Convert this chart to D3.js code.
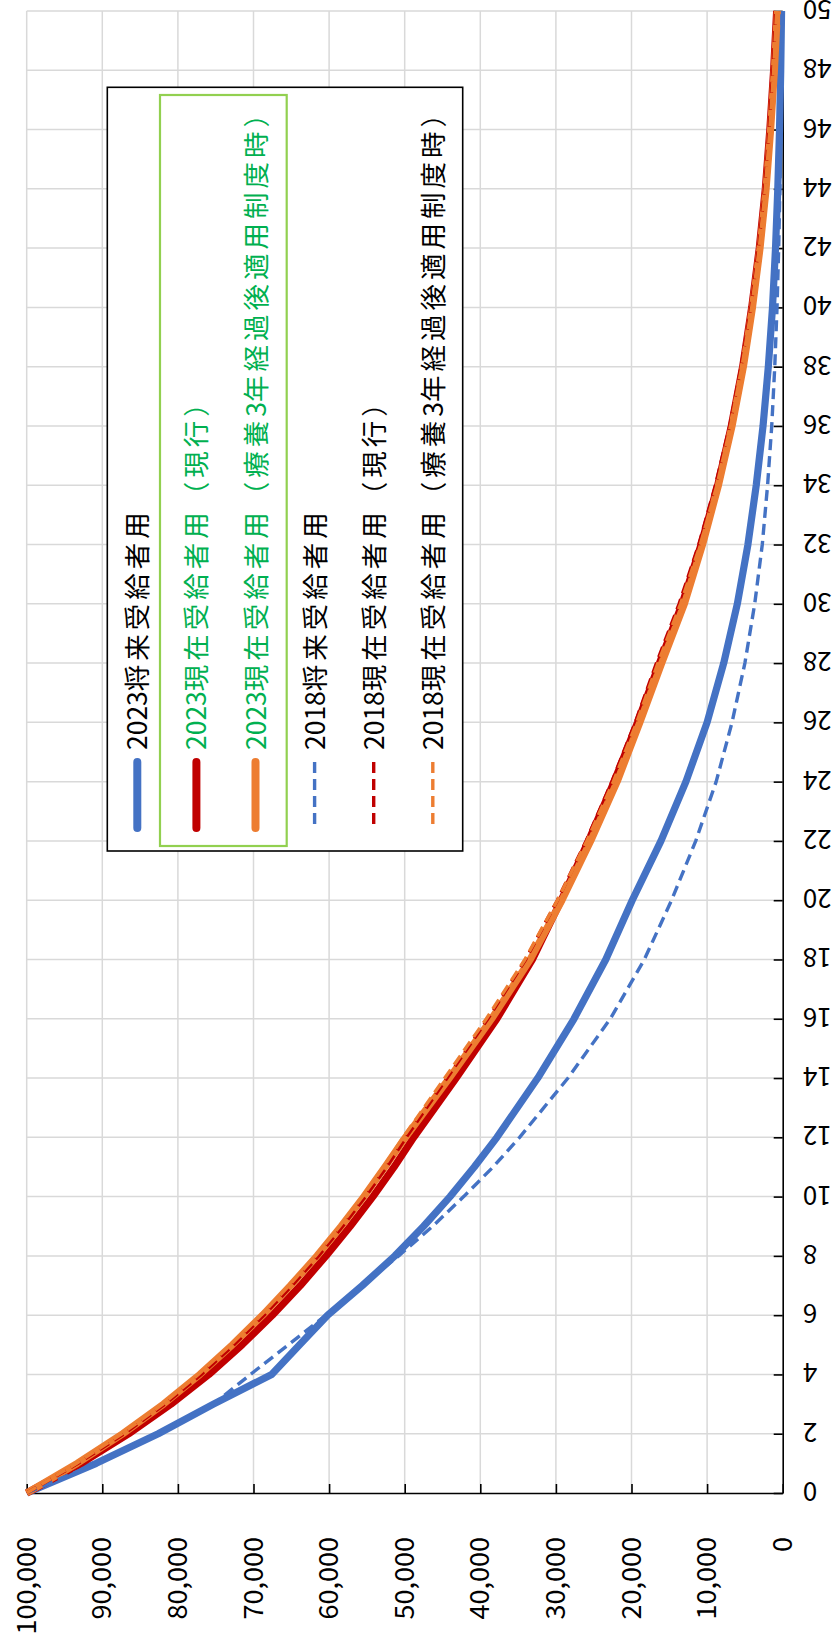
<!DOCTYPE html>
<html><head><meta charset="utf-8">
<script src="https://cdn.jsdelivr.net/npm/d3@7"></script>
<style>
html,body{margin:0;padding:0;background:#fff;}
svg{display:block;font-family:"Noto Sans CJK JP","Noto Sans",sans-serif;}
</style></head>
<body><svg id="c" width="835" height="1647"></svg>
<script>
// ---- data ----
const years = [0,1,2,3,4,5,6,7,8,9,10,11,12,14,16,18,20,22,24,26,28,30,32,34,36,38,40,42,44,46,48,50];
const future2023  = [100000,90800,82600,75300,67600,63900,60200,55600,51300,47500,44000,40800,37800,32400,27600,23400,19900,16100,12800,10000,7800,6000,4600,3500,2600,1900,1350,950,650,420,260,150];
const present2023 = [100000,92800,86500,80900,75900,71500,67500,63800,60400,57200,54200,51400,48800,43200,37800,33100,29300,25700,22300,19200,16300,13300,10800,8600,6800,5300,4100,3100,2300,1700,1200,800];
const ryoyo2023   = [100000,93300,87300,81900,77100,72800,68800,65100,61600,58400,55400,52600,49900,44100,38500,33400,29200,25400,21900,18900,16000,13000,10600,8500,6700,5200,4000,3000,2200,1600,1100,700];
const future2018  = [100000,90800,82600,75300,70400,65400,60400,55600,50800,46300,42200,38300,34800,28400,22800,18300,14700,11500,8800,6700,5000,3700,2700,2000,1450,1050,750,530,370,250,160,100];
const present2018 = [100000,93200,87100,81700,76900,72600,68600,64900,61400,58200,55200,52400,49800,44400,39000,34000,29800,26000,22600,19500,16700,13700,11100,8900,7000,5500,4200,3200,2400,1800,1300,900];
const ryoyo2018   = [100000,93400,87400,82000,77300,73000,69000,65300,61800,58600,55600,52800,50200,44700,39200,34100,29800,25900,22400,19300,16500,13500,10900,8700,6900,5400,4100,3100,2300,1700,1200,800];
const seriesNames = ["2023将来受給者用","2023現在受給者用（現行）","2023現在受給者用（療養3年経過後適用制度時）","2018将来受給者用","2018現在受給者用（現行）","2018現在受給者用（療養3年経過後適用制度時）"];
const seriesValues = [future2023, present2023, ryoyo2023, future2018, present2018, ryoyo2018];
const seriesColors = ["#4472C4","#C00000","#ED7D31","#4472C4","#C00000","#ED7D31"];
const seriesDashed = [false,false,false,true,true,true];
const legendTextColors = ["#000","#00B050","#00B050","#000","#000","#000"];
const valueTicks = [0,10000,20000,30000,40000,50000,60000,70000,80000,90000,100000];
const yearTicks = d3.range(0,51,2);

// ---- chart ----
const svg = d3.select("#c");
svg.append("rect").attr("width",835).attr("height",1647).attr("fill","#fff");

// value axis runs horizontally (0 at right), years run vertically (0 at bottom)
const xV = d3.scaleLinear().domain([0,100000]).range([782.7, 26.7]);
const yY = d3.scaleLinear().domain([0,50]).range([1493, 11]);

const grid = svg.append("g");
grid.selectAll("line.vg").data(valueTicks.filter(v=>v>0)).join("line")
  .attr("x1",d=>xV(d)).attr("x2",d=>xV(d)).attr("y1",yY(50)).attr("y2",yY(0))
  .attr("stroke","#d9d9d9").attr("stroke-width",1.5);
grid.selectAll("line.hg").data(yearTicks.filter(v=>v>0)).join("line")
  .attr("y1",d=>yY(d)).attr("y2",d=>yY(d)).attr("x1",xV(100000)).attr("x2",xV(0))
  .attr("stroke","#d9d9d9").attr("stroke-width",1.5);

// year axis (right side), ticks pointing inward, labels rotated 180
const yAxis = svg.append("g").attr("transform",`translate(${xV(0)},0)`)
  .call(d3.axisRight(yY).tickValues(yearTicks).tickSize(-9).tickSizeOuter(0).tickFormat(d3.format("d")));
yAxis.select(".domain").attr("stroke","#000").attr("stroke-width",1.6);
yAxis.selectAll(".tick line").attr("stroke","#000").attr("stroke-width",1.6);
yAxis.selectAll(".tick text")
  .attr("x",null).attr("dy",null)
  .attr("transform","translate(20,0) rotate(180)")
  .attr("text-anchor","end").attr("dominant-baseline","central")
  .attr("font-size",26).attr("fill","#000")
  .attr("font-family","'Noto Sans CJK JP','Noto Sans',sans-serif");

// value axis (bottom), ticks pointing inward, labels rotated -90
const xAxis = svg.append("g").attr("transform",`translate(0,${yY(0)})`)
  .call(d3.axisBottom(xV).tickValues(valueTicks).tickSize(-9).tickSizeOuter(0).tickFormat(d3.format(",")));
xAxis.select(".domain").attr("stroke","#000").attr("stroke-width",1.6);
xAxis.selectAll(".tick line").attr("stroke","#000").attr("stroke-width",1.6);
xAxis.selectAll(".tick text")
  .attr("y",null).attr("dy",null)
  .attr("transform","translate(-3,44) rotate(-90)")
  .attr("text-anchor","end").attr("dominant-baseline","central")
  .attr("font-size",27).attr("fill","#000")
  .attr("font-family","'Noto Sans CJK JP','Noto Sans',sans-serif");

// series
const line = d3.line().x(d=>xV(d[1])).y(d=>yY(d[0]));
seriesValues.forEach((vals,i)=>{
  const pts = years.map((yr,j)=>[yr, vals[j]]);
  svg.append("path").datum(pts).attr("d",line)
    .attr("fill","none").attr("stroke",seriesColors[i])
    .attr("stroke-width",seriesDashed[i]?3.4:7.2)
    .attr("stroke-linejoin","round")
    .attr("stroke-dasharray",seriesDashed[i]?"11,6":null);
});

// legend
const lg = svg.append("g");
lg.append("rect").attr("x",107.3).attr("y",87.3).attr("width",355.4).attr("height",763.7)
  .attr("fill","#fff").attr("stroke","#000").attr("stroke-width",1.6);
lg.append("rect").attr("x",160).attr("y",95).attr("width",126.7).attr("height",751)
  .attr("fill","none").attr("stroke","#92D050").attr("stroke-width",2.2);
const cjk = /[\u3000-\u9fff\uff00-\uffef]/;
seriesNames.forEach((name,i)=>{
  const cx = 137.3 + i*59.1;
  lg.append("line").attr("x1",cx).attr("x2",cx).attr("y1",762).attr("y2",828)
    .attr("stroke",seriesColors[i]).attr("stroke-width",seriesDashed[i]?3.4:8)
    .attr("stroke-linecap",seriesDashed[i]?"butt":"round")
    .attr("stroke-dasharray",seriesDashed[i]?"11,6":null);
  const t = lg.append("text").attr("transform",`translate(${cx-2},750) rotate(-90)`)
    .attr("text-anchor","start").attr("dominant-baseline","central")
    .attr("font-size",26.5).attr("fill",legendTextColors[i]);
  const runs = [];
  for (const ch of name) {
    const isC = cjk.test(ch);
    if (runs.length && runs[runs.length-1].c===isC) runs[runs.length-1].s += ch;
    else runs.push({c:isC, s:ch});
  }
  runs.forEach(r=>{
    t.append("tspan").attr("letter-spacing", r.c?"4px":"0px").text(r.s);
  });
});
</script></body></html>
